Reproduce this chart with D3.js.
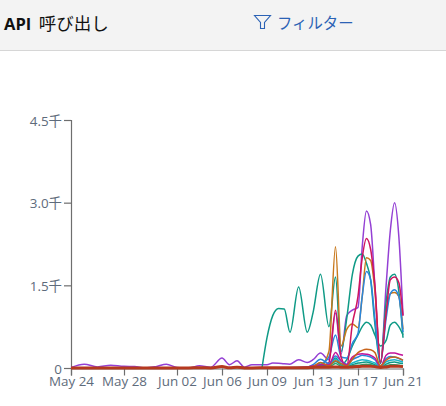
<!DOCTYPE html>
<html><head><meta charset="utf-8">
<script src="https://cdn.jsdelivr.net/npm/d3@7"></script>
<style>
html,body{margin:0;padding:0;background:#fff;width:446px;height:406px;overflow:hidden}
text{font-family:"Open Sans","Noto Sans CJK JP",sans-serif}
</style></head><body>
<svg id="c" width="446" height="406"></svg>
<script>
const title = "API 呼び出し";
const filterLabel = "フィルター";
const tickDates = ["2021-05-24","2021-05-28","2021-06-02","2021-06-06","2021-06-09","2021-06-13","2021-06-17","2021-06-21"];
const yTicks = [0,1500,3000,4500];
const yLabels = ["0","1.5千","3.0千","4.5千"];

const earlyDates = ["05-24","05-25","05-26","05-27","05-28","05-29","05-30","05-31","06-01","06-02","06-03","06-04","06-05","06-06","06-06T12","06-07","06-07T12","06-08"];
const lateHours = [-8,0,12,24,36,48,66,84,96,112,130,144,156,168,180,192,201,210,219,228,240,252,261,270,279,288];

const purpleEarly = [10,70,20,50,30,28,0,25,70,10,0,40,15,180,60,130,15,60];
const purpleLate  = [55,60,90,85,75,70,150,100,150,270,150,1000,250,950,1050,1100,2200,2850,2600,1500,80,1500,2500,3000,2400,950];
const tealMain    = [0,550,950,1080,1070,650,1470,650,1000,1700,750,1650,300,900,1700,2030,2070,1900,1600,800,80,1200,1650,1700,1400,550];
const tealSecond  = [0,0,0,5,5,5,10,10,20,40,50,120,60,150,400,600,750,830,780,600,400,500,780,830,750,600];
const crimson     = [0,0,0,0,0,0,5,10,15,30,100,1050,200,30,800,1300,2000,2350,2150,1500,100,1000,1600,1650,1550,950];
const orange      = [0,0,0,0,0,0,5,5,20,40,300,2200,400,700,800,730,1300,2000,1950,1400,100,1000,1350,1370,1300,700];
const blue        = [0,0,0,0,0,0,5,10,30,60,200,600,200,180,450,630,1300,1750,1600,900,100,900,1350,1420,1300,650];
const orangeSmall = [0,0,0,0,0,0,5,10,30,100,40,130,80,40,160,280,320,340,330,280,40,140,190,200,180,140];
const magentaSmall= [0,0,0,0,0,0,10,20,40,60,60,280,130,60,200,250,260,250,230,180,30,230,270,270,250,230];
const blueSmall   = [0,0,0,0,0,0,5,15,60,160,80,220,120,70,150,200,230,220,200,150,30,170,210,200,170,140];
const cyanSmall   = [0,0,0,0,0,0,5,10,30,90,50,160,70,40,90,130,150,140,120,90,20,110,140,150,130,110];
const tealSmall   = [0,0,0,0,0,0,5,5,20,50,40,180,60,30,60,90,100,110,90,60,15,70,100,110,90,80];
const greenSmall  = [0,0,0,0,0,0,0,5,10,30,20,80,30,20,40,50,60,70,60,40,10,40,60,60,50,40];
const brickEarly  = [0,0,0,0,0,0,0,0,0,0,0,5,0,25,5,15,0,0];
const brickLate   = [0,5,5,5,5,5,5,5,10,15,15,20,15,15,20,25,30,30,30,25,10,20,30,30,30,25];

const parse = d3.utcParse("%Y-%m-%d");
const earlyX = earlyDates.map(d => new Date("2021-" + d + (d.includes("T") ? ":00:00Z" : "T00:00:00Z")));
const nine = parse("2021-06-09").getTime();
const lateX = lateHours.map(h => new Date(nine + h * 3600e3));
const tickX = tickDates.map(parse);

const svg = d3.select("#c");
// header
svg.append("rect").attr("width",446).attr("height",50).attr("fill","#f3f3f3");
svg.append("rect").attr("y",50).attr("width",446).attr("height",1).attr("fill","#d6d6d6");
const t = svg.append("text").attr("x",4).attr("y",30).attr("fill","#111");
t.append("tspan").attr("font-weight",700).attr("font-size",16.5).text(title.split(" ")[0]);
t.append("tspan").attr("font-size",17.5).attr("dx",3).text(" " + title.split(" ")[1]);
svg.append("path").attr("d","M254.5 15.5H270.5L264.5 22.5V28.5H260.5V22.5Z")
   .attr("fill","none").attr("stroke","#2b62b5").attr("stroke-width",1.1);
svg.append("text").attr("x",277).attr("y",29).attr("font-size",15.4).attr("fill","#2b62b5").text(filterLabel);

// scales
const x = d3.scaleUtc().domain(tickX).range([71,124,177,222,267,313,358,403]);
const y = d3.scaleLinear().domain([0,4500]).range([368,120]);

const gy = svg.append("g").attr("transform","translate(71,0)")
  .call(d3.axisLeft(y).tickValues(yTicks).tickFormat((d,i)=>yLabels[i]).tickSize(7).tickPadding(2));
const gx = svg.append("g").attr("transform","translate(0,368.5)")
  .call(d3.axisBottom(x).tickValues(tickX).tickFormat(d3.utcFormat("%b %d")).tickSize(7).tickPadding(1));
[gy,gx].forEach(g=>{
  g.selectAll("path,line").attr("stroke","#6e6e6e").attr("stroke-width",1.2);
  g.selectAll("text").attr("font-size",13.4).attr("fill","#5e6b7b").attr("font-family",'"Open Sans","Noto Sans CJK JP",sans-serif');
});
gy.selectAll("text").attr("dy","0.38em");

const line = d3.line().x(d=>x(d[0])).y(d=>y(d[1])).curve(d3.curveMonotoneX);
const zip = (xs,vs)=>xs.map((d,i)=>[d,vs[i]]);
const series = [
  [zip(earlyX,purpleEarly).concat(zip(lateX.slice(1),purpleLate.slice(1))),"#9440d4",1.5],
  [zip(lateX,tealMain),"#0f9a86",1.5],
  [zip(lateX,tealSecond),"#0f9a86",1.5],
  [zip(lateX,orange),"#c8781c",1.5],
  [zip(lateX,blue),"#2a86dc",1.5],
  [zip(lateX,crimson),"#d0145f",1.5],
  [zip(lateX,greenSmall),"#2aa06a",1.5],
  [zip(lateX,tealSmall),"#0f9a86",1.5],
  [zip(lateX,cyanSmall),"#19b5c9",1.5],
  [zip(lateX,blueSmall),"#2a86dc",1.5],
  [zip(lateX,magentaSmall),"#c2139a",1.5],
  [zip(lateX,orangeSmall),"#c8641c",1.5],
  [zip(earlyX,brickEarly).concat(zip(lateX.slice(1),brickLate.slice(1))),"#b5391f",3]
];
svg.append("g").attr("fill","none").selectAll("path").data(series).join("path")
  .attr("d",d=>line(d[0])).attr("stroke",d=>d[1]).attr("stroke-width",d=>d[2]);
</script></body></html>
